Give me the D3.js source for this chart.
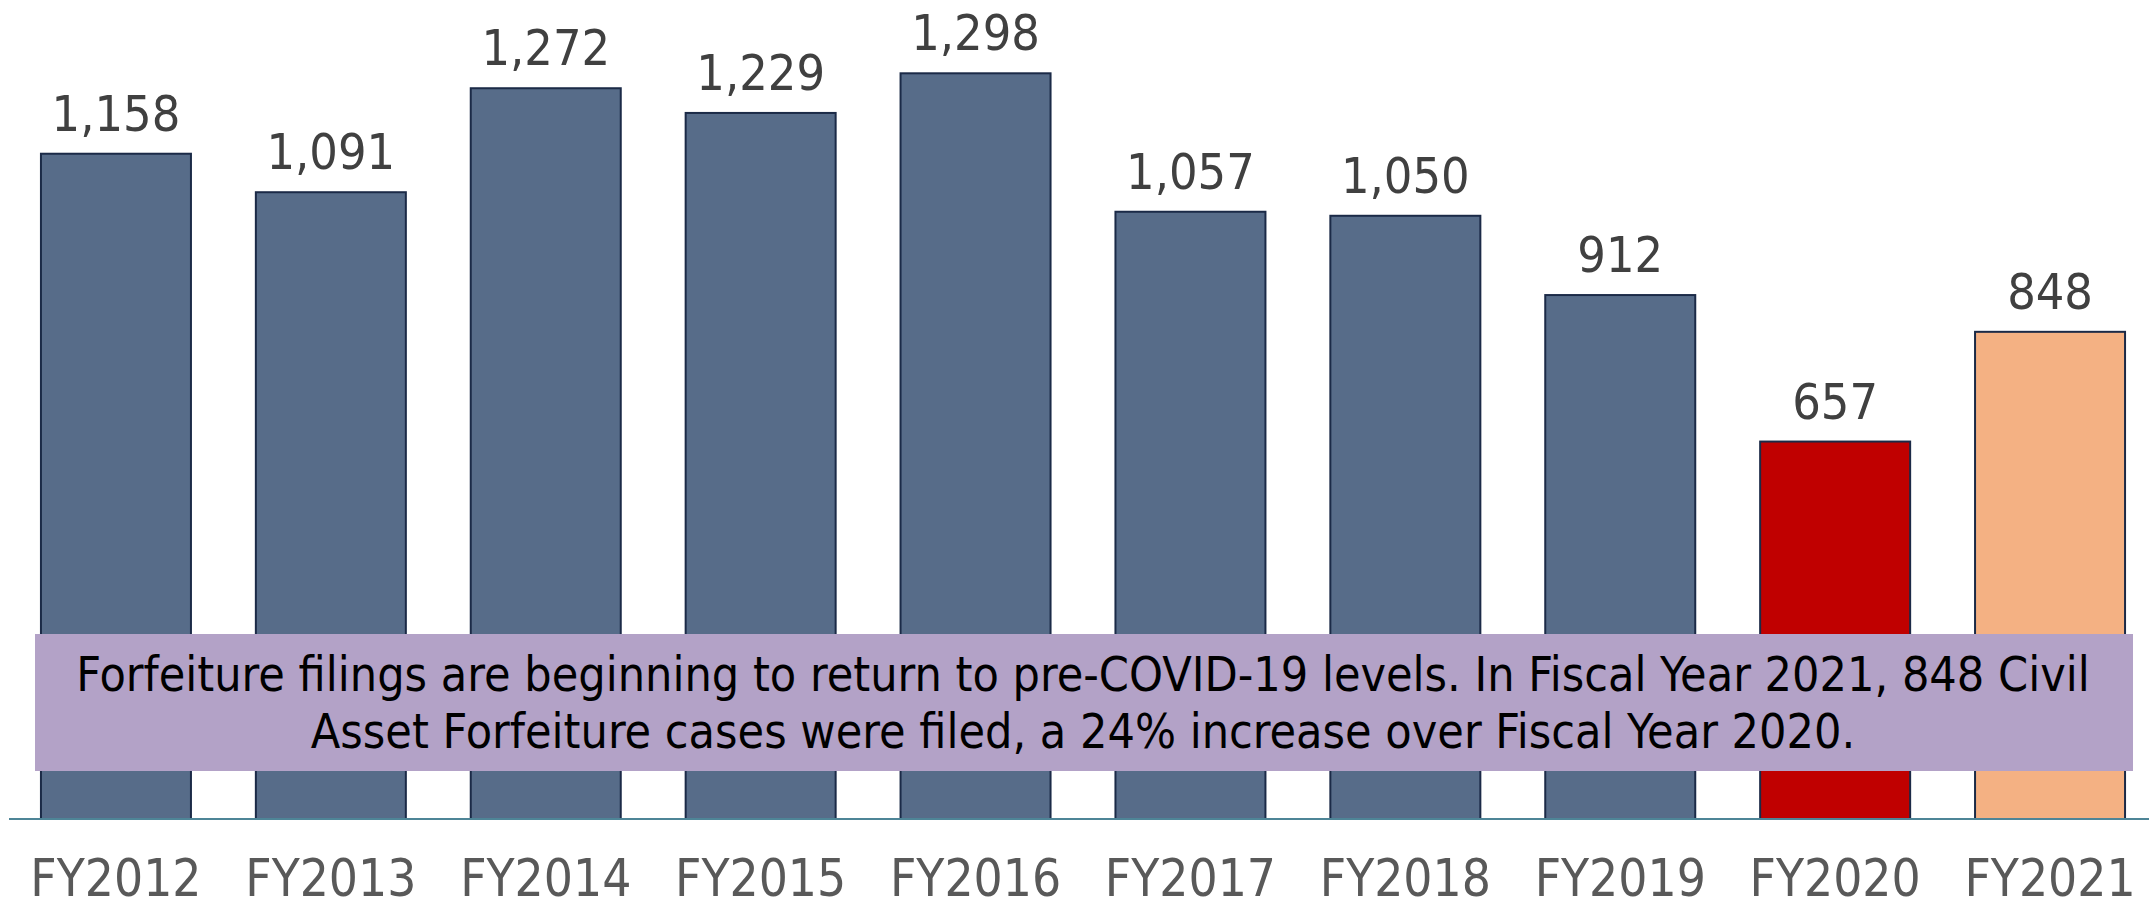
<!DOCTYPE html>
<html>
<head>
<meta charset="utf-8">
<script src="https://cdn.jsdelivr.net/npm/d3@7"></script>
<style>
    html, body { margin: 0; padding: 0; background: #ffffff; }
    svg { display: block; }
    .value { font-family: "DejaVu Sans Condensed", "DejaVu Sans", sans-serif; font-size: 50px; fill: #404040; }
    .yearLabel { font-family: "DejaVu Sans Condensed", "DejaVu Sans", sans-serif; font-size: 51px; fill: #595959; }
    .note { font-family: "DejaVu Sans Condensed", "DejaVu Sans", sans-serif; font-size: 48px; fill: #000000; }
</style>
</head>
<body>
<script>
(function(){
    // chart data
    var years = ["FY2012", "FY2013", "FY2014", "FY2015", "FY2016", "FY2017", "FY2018", "FY2019", "FY2020", "FY2021"];
    var filings = [1158, 1091, 1272, 1229, 1298, 1057, 1050, 912, 657, 848];
    var noteLines = [
        "Forfeiture filings are beginning to return to pre-COVID-19 levels. In Fiscal Year 2021, 848 Civil",
        "Asset Forfeiture cases were filed, a 24% increase over Fiscal Year 2020."
    ];

    var width = 2149,
        height = 909,
        baseline = 819;

    var svg = d3.select("body")
        .append("svg")
        .attr("width", width)
        .attr("height", height);

    var xScale = d3.scaleBand()
        .domain(years)
        .range([8.5, 8.5 + width])
        .paddingInner(0.302)
        .paddingOuter(0.151);

    var yScale = d3.scaleLinear()
        .domain([0, 1400])
        .range([baseline, baseline - 1400 * 0.5745]);

    function barColor(year){
        if (year === "FY2020") return "#C00000";
        if (year === "FY2021") return "#F4B183";
        return "#576C89";
    }

    var data = years.map(function(y, i){
        return { year: y, value: filings[i] };
    });

    // bars
    svg.selectAll(".bar")
        .data(data)
        .enter()
        .append("rect")
        .attr("class", "bar")
        .attr("x", function(d){ return xScale(d.year); })
        .attr("width", xScale.bandwidth())
        .attr("y", function(d){ return yScale(d.value); })
        .attr("height", function(d){ return baseline - yScale(d.value); })
        .style("fill", function(d){ return barColor(d.year); })
        .style("stroke", "#1B2A47")
        .style("stroke-width", 2);

    // axis line
    svg.append("line")
        .attr("x1", 9)
        .attr("x2", width)
        .attr("y1", baseline)
        .attr("y2", baseline)
        .style("stroke", "#4E8597")
        .style("stroke-width", 2);

    // value labels
    svg.selectAll(".value")
        .data(data)
        .enter()
        .append("text")
        .attr("class", "value")
        .attr("text-anchor", "middle")
        .attr("x", function(d){ return xScale(d.year) + xScale.bandwidth() / 2; })
        .attr("y", function(d){ return yScale(d.value) - 23; })
        .text(function(d){ return d3.format(",")(d.value); });

    // category labels
    svg.selectAll(".yearLabel")
        .data(years)
        .enter()
        .append("text")
        .attr("class", "yearLabel")
        .attr("text-anchor", "middle")
        .attr("x", function(d){ return xScale(d) + xScale.bandwidth() / 2; })
        .attr("y", 896)
        .text(function(d){ return d; });

    // annotation box
    var box = svg.append("g");
    box.append("rect")
        .attr("x", 35)
        .attr("y", 634)
        .attr("width", 2098)
        .attr("height", 137)
        .style("fill", "#B3A2C7");

    box.selectAll(".note")
        .data(noteLines)
        .enter()
        .append("text")
        .attr("class", "note")
        .attr("text-anchor", "middle")
        .attr("x", 1083)
        .attr("y", function(d, i){ return 691 + i * 57; })
        .text(function(d){ return d; });
})();
</script>
</body>
</html>
